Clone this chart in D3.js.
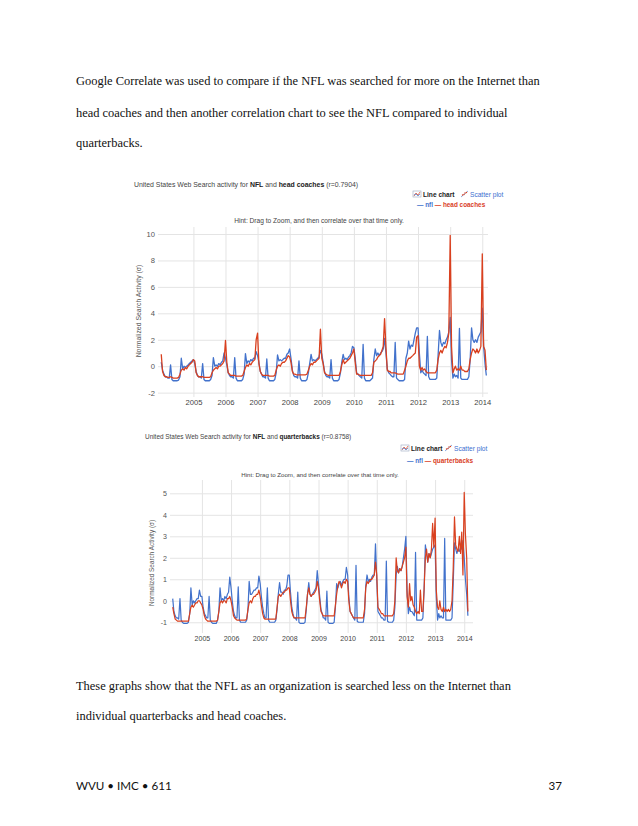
<!DOCTYPE html>
<html>
<head>
<meta charset="utf-8">
<script src="https://cdn.jsdelivr.net/npm/d3@7.9.0/dist/d3.min.js"></script>
<style>
  body { margin: 0; background: #fff; }
  svg { display: block; }
  .body-text { font-family: "Liberation Serif", "DejaVu Serif", serif; font-size: 12.45px; fill: #111; }
  .footer { font-family: Lato, "Open Sans", sans-serif; font-size: 11.6px; fill: #111; }
  .gc text { font-family: "Liberation Sans", Arial, sans-serif; }
</style>
</head>
<body>
<svg id="page" width="638" height="826"></svg>
<script>
// semi-monthly samples (1st and 16th of each month), Jan 2004 -> Feb 2014
const startYear = 2004;
const yearLabels = [2005, 2006, 2007, 2008, 2009, 2010, 2011, 2012, 2013, 2014];

// chart 1: nfl vs head coaches
const nflCoaches = [
  0.3,-0.3,-0.6,-0.8,-0.8,-0.9,-0.9,0.1,-1.0,-1.1,-1.1,-1.1,-1.1,-1.05,-0.8,0.6,-0.2,0.0,-0.1,0.0,0.1,0.2,0.3,0.4,
  0.5,0.2,-0.4,-0.7,-0.8,-0.8,-0.9,0.2,-1.0,-1.1,-1.1,-1.1,-1.1,-1.0,-0.7,0.65,0.0,0.1,0.0,0.2,0.1,0.3,0.4,1.0,
  0.6,0.1,-0.5,-0.7,-0.8,-0.8,-0.9,0.65,-0.9,-1.1,-1.1,-1.1,-1.1,-1.0,-0.6,0.95,0.2,0.4,0.3,0.5,0.4,0.6,0.6,1.1,
  0.8,0.3,-0.4,-0.6,-0.8,-0.8,-0.9,0.55,-0.9,-1.1,-1.1,-1.1,-1.1,-1.0,-0.5,0.85,0.4,0.5,0.4,0.5,0.6,0.6,0.9,1.0,
  1.3,0.6,-0.3,-0.7,-0.8,-0.8,-0.9,0.4,-0.9,-1.1,-1.1,-1.1,-1.1,-1.0,-0.5,0.2,0.9,0.4,0.5,0.4,0.5,0.6,0.7,1.2,
  0.9,0.3,-0.4,-0.7,-0.8,-0.8,-0.9,0.5,-0.9,-1.1,-1.1,-1.1,-1.1,-1.0,-0.5,0.3,0.9,0.5,0.6,0.5,0.7,0.8,1.0,1.5,
  1.4,0.6,-0.5,-0.6,-0.7,-0.8,-0.9,1.65,-0.9,-1.1,-1.1,-1.1,-1.1,-1.0,-0.9,0.5,1.3,0.8,1.0,0.8,1.0,1.1,1.3,2.1,
  1.0,-0.2,-0.5,-0.6,-0.7,-0.8,-0.8,1.8,-0.9,-1.0,-1.1,-1.1,-1.1,-1.1,-1.0,0.6,1.0,1.9,1.3,1.6,1.5,2.0,2.5,2.9,
  2.9,1.0,-0.5,-0.3,-0.5,-0.6,-0.7,2.25,-0.8,-1.0,-1.0,-1.0,-1.0,-1.0,-0.9,0.8,2.7,1.8,1.5,1.8,1.7,2.0,2.2,2.6,
  3.7,0.5,-0.9,-0.6,-0.8,-0.7,-0.9,2.85,-0.9,-1.0,-1.0,-1.0,-1.0,-1.0,-0.8,0.5,2.9,2.0,1.8,2.0,1.8,2.2,2.4,2.6,
  4.4,1.5,0.2,-0.7
];
const headCoaches = [
  0.9,-0.4,-0.7,-0.8,-0.8,-0.85,-0.85,-0.8,-0.85,-0.9,-0.9,-0.9,-0.9,-0.85,-0.6,-0.3,-0.2,-0.3,-0.1,-0.2,0.0,0.1,0.2,0.3,
  0.5,0.4,-0.5,-0.7,-0.8,-0.8,-0.8,-0.8,-0.85,-0.85,-0.85,-0.85,-0.85,-0.8,-0.5,-0.3,-0.2,-0.1,-0.2,0.0,0.0,0.1,0.2,0.4,
  1.95,0.3,-0.5,-0.6,-0.7,-0.7,-0.7,-0.7,-0.75,-0.75,-0.75,-0.75,-0.75,-0.7,-0.4,-0.1,0.1,0.0,0.2,0.1,0.3,0.4,0.5,2.0,
  2.5,0.2,-0.4,-0.6,-0.7,-0.7,-0.7,-0.7,-0.7,-0.75,-0.75,-0.75,-0.75,-0.7,-0.3,0.0,0.1,0.0,0.2,0.3,0.3,0.4,0.6,0.8,
  0.7,0.3,-0.4,-0.6,-0.6,-0.65,-0.65,-0.65,-0.65,-0.65,-0.65,-0.65,-0.65,-0.6,-0.3,0.0,0.2,0.1,0.3,0.3,0.4,0.5,0.6,2.8,
  0.6,0.2,-0.5,-0.6,-0.65,-0.7,-0.7,-0.7,-0.7,-0.7,-0.7,-0.7,-0.7,-0.7,-0.4,0.1,0.5,0.2,0.3,0.4,0.5,0.6,0.8,1.0,
  1.3,0.3,-0.6,-0.6,-0.65,-0.7,-0.7,-0.7,-0.7,-0.7,-0.7,-0.7,-0.7,-0.7,-0.5,0.3,0.4,0.5,0.7,0.8,0.9,1.2,1.5,3.6,
  1.4,-0.3,-0.4,-0.4,-0.5,-0.5,-0.5,-0.5,-0.55,-0.6,-0.6,-0.6,-0.6,-0.6,-0.3,0.0,0.4,0.6,0.6,0.7,0.8,0.9,1.0,2.2,
  2.3,0.0,-0.3,-0.1,-0.3,-0.2,-0.4,-0.5,-0.5,-0.5,-0.5,-0.5,-0.5,-0.5,-0.3,0.5,1.0,1.2,1.0,1.3,1.5,1.4,1.8,2.5,
  9.9,1.5,-0.5,-0.2,0.0,-0.3,-0.2,-0.3,0.0,-0.3,-0.3,-0.4,-0.4,-0.4,-0.2,0.5,1.0,1.3,1.2,1.0,1.3,1.0,1.2,1.5,
  8.5,1.5,1.2,-0.3
];

// chart 2: nfl vs quarterbacks
const nflQbs = [
  0.1,-0.5,-0.7,-0.8,-0.8,-0.85,0.1,-0.9,-1.0,-1.05,-1.05,-1.05,-1.05,-1.0,-0.6,0.6,-0.2,0.0,-0.1,0.0,0.1,0.1,0.5,0.2,
  0.2,-0.3,-0.6,-0.7,-0.8,-0.8,0.2,-0.9,-1.0,-1.05,-1.05,-1.05,-1.05,-0.9,-0.5,0.6,0.0,0.1,0.0,0.2,0.1,0.3,0.4,1.1,
  0.6,0.0,-0.5,-0.7,-0.8,-0.8,0.65,-0.9,-1.0,-1.0,-1.0,-1.0,-1.0,-0.9,-0.4,0.9,0.3,0.3,0.4,0.5,0.5,0.6,0.6,1.15,
  0.8,0.2,-0.3,-0.6,-0.8,-0.8,0.6,-0.9,-1.0,-1.0,-1.0,-1.0,-1.0,-0.9,-0.4,0.3,0.85,0.4,0.4,0.3,0.5,0.5,0.7,1.2,
  1.2,0.4,-0.3,-0.6,-0.8,-0.8,-0.9,0.4,-1.0,-1.05,-1.05,-1.05,-1.05,-1.0,-0.4,0.3,0.85,0.3,0.2,0.3,0.4,0.5,0.6,1.4,
  0.8,0.2,-0.4,-0.6,-0.8,-0.8,-0.9,0.45,-1.0,-1.05,-1.05,-1.05,-1.05,-1.0,-0.3,0.8,0.6,0.8,0.9,0.7,0.9,1.0,1.0,1.55,
  1.2,0.2,-0.5,-0.6,-0.7,-0.8,-0.9,1.65,-0.95,-1.0,-1.0,-1.0,-1.0,-1.0,-0.6,0.7,1.2,0.9,1.0,0.9,1.1,1.2,1.2,2.65,
  1.0,-0.5,-0.6,-0.7,-0.8,-0.8,-0.9,-0.9,1.85,-0.95,-1.0,-1.0,-1.0,-1.0,-0.9,-0.3,1.2,1.6,1.3,1.5,1.4,1.6,2.0,2.4,
  3.0,0.5,-0.6,-0.3,-0.5,-0.5,-0.6,-0.7,2.25,-0.9,-0.9,-0.9,-0.9,-0.9,-0.8,0.5,2.6,2.2,1.8,2.2,2.0,2.2,2.4,2.5,
  2.6,0.2,-0.9,-0.6,-0.8,-0.7,-0.8,-0.8,2.9,-0.9,-0.9,-0.9,-0.9,-0.9,-0.8,0.8,2.7,2.4,2.2,2.4,2.3,2.5,2.4,2.8,
  2.0,1.0,0.3,-0.7
];
const quarterbacks = [
  -0.3,-0.6,-0.85,-0.9,-0.95,-0.95,-0.95,-0.95,-0.95,-0.95,-0.95,-0.95,-0.95,-0.95,-0.6,-0.3,-0.2,-0.3,-0.2,-0.1,-0.1,0.0,0.0,-0.1,
  -0.2,-0.4,-0.7,-0.85,-0.9,-0.95,-0.95,-0.95,-0.95,-0.95,-0.95,-0.95,-0.95,-0.9,-0.5,-0.1,0.0,-0.1,0.0,0.0,-0.1,0.1,0.1,0.2,
  0.0,-0.3,-0.7,-0.8,-0.85,-0.9,-0.9,-0.9,-0.9,-0.9,-0.9,-0.9,-0.9,-0.85,-0.4,-0.1,0.0,-0.1,0.1,0.2,0.2,0.3,0.3,0.5,
  0.2,-0.2,-0.6,-0.8,-0.85,-0.85,-0.85,-0.85,-0.85,-0.85,-0.85,-0.85,-0.85,-0.85,-0.3,0.2,0.3,0.2,0.3,0.4,0.4,0.5,0.5,0.6,
  0.6,0.0,-0.5,-0.7,-0.8,-0.8,-0.8,-0.8,-0.8,-0.8,-0.8,-0.8,-0.8,-0.8,-0.3,0.3,0.6,0.3,0.2,0.3,0.3,0.4,0.5,0.9,
  0.6,0.0,-0.5,-0.6,-0.7,-0.7,-0.7,-0.7,-0.7,-0.7,-0.7,-0.7,-0.7,-0.7,-0.2,0.3,0.7,0.9,0.8,0.6,0.8,0.9,0.8,1.0,
  0.9,0.0,-0.5,-0.6,-0.7,-0.8,-0.8,-0.8,-0.8,-0.8,-0.8,-0.8,-0.8,-0.8,-0.4,0.6,0.9,0.8,0.9,1.0,1.0,1.1,1.2,1.8,
  1.2,-0.3,-0.4,-0.5,-0.6,-0.6,-0.7,-0.7,-0.7,-0.7,-0.7,-0.7,-0.7,-0.7,-0.6,0.0,2.0,1.4,1.3,1.5,1.4,1.6,1.8,2.0,
  2.5,0.2,-0.3,0.8,0.0,0.2,-0.2,-0.3,-0.5,-0.6,-0.5,-0.6,0.5,-0.5,-0.5,0.5,2.0,2.4,1.8,2.2,2.0,2.4,3.6,2.5,
  3.85,0.5,-0.3,-0.4,0.0,-0.4,-0.5,-0.3,-0.5,-0.4,-0.5,-0.4,-0.5,-0.4,0.0,1.5,3.9,2.6,2.4,2.3,3.0,2.2,3.2,1.2,
  5.05,3.1,2.0,-0.5
];

const coachTicks = [-2, 0, 2, 4, 6, 8, 10];
const qbTicks = [-1, 0, 1, 2, 3, 4, 5];

const topParagraph = [
  'Google Correlate was used to compare if the NFL was searched for more on the Internet than',
  'head coaches and then another correlation chart to see the NFL compared to individual',
  'quarterbacks.'
];
const bottomParagraph = [
  'These graphs show that the NFL as an organization is searched less on the Internet than',
  'individual quarterbacks and head coaches.'
];

const blue = '#4272cc';
const red = '#d9401f';

const svg = d3.select('#page');

function sampleDate(i) {
  return new Date(startYear + Math.floor(i / 24), Math.floor((i % 24) / 2), i % 2 ? 16 : 1);
}

// page text
svg.selectAll('text.top').data(topParagraph).join('text')
  .attr('class', 'body-text top')
  .attr('x', 76).attr('y', (d, i) => [85, 117, 147][i])
  .text(d => d);
svg.selectAll('text.bottom').data(bottomParagraph).join('text')
  .attr('class', 'body-text bottom')
  .attr('x', 76).attr('y', (d, i) => [690, 720][i])
  .text(d => d);
svg.append('text').attr('class', 'footer').attr('x', 76).attr('y', 790).text('WVU \u2022 IMC \u2022 611');
svg.append('text').attr('class', 'footer').attr('x', 562).attr('y', 790).attr('text-anchor', 'end').text('37');

function drawChart(opt) {
  const g = svg.append('g').attr('class', 'gc');
  const x = d3.scaleTime().domain(opt.xDomain).range([opt.left, opt.right]);
  const y = d3.scaleLinear().domain(opt.yDomain).range([opt.bottom, opt.top]);
  const k = opt.scale;

  // horizontal grid + y labels
  g.append('g')
    .attr('transform', `translate(${opt.left},0)`)
    .call(d3.axisLeft(y).tickValues(opt.yTicks).tickSize(-(opt.right - opt.left)).tickPadding(3).tickFormat(d => String(d)))
    .call(a => a.select('.domain').remove())
    .call(a => a.selectAll('line').attr('stroke', '#e4e4e4'))
    .call(a => a.selectAll('text').attr('fill', '#555').attr('font-size', 7.6 * k));

  // vertical grid + year labels
  g.append('g')
    .attr('transform', `translate(0,${opt.bottom})`)
    .call(d3.axisBottom(x).tickValues(yearLabels.map(yr => new Date(yr, 0, 1)))
      .tickSize(-(opt.bottom - opt.top)).tickPadding(3).tickFormat(d3.timeFormat('%Y')))
    .call(a => a.select('.domain').remove())
    .call(a => a.selectAll('line').attr('stroke', '#e4e4e4'))
    .call(a => a.selectAll('text').attr('fill', '#444').attr('font-size', 7.6 * k));

  const line = d3.line().x((d, i) => x(sampleDate(i))).y(d => y(d));
  g.append('path').datum(opt.nfl).attr('d', line)
    .attr('fill', 'none').attr('stroke', blue).attr('stroke-width', 1.3 * k).attr('stroke-linejoin', 'round');
  g.append('path').datum(opt.other).attr('d', line)
    .attr('fill', 'none').attr('stroke', red).attr('stroke-width', 1.3 * k).attr('stroke-linejoin', 'round');

  // y title
  g.append('text')
    .attr('transform', `translate(${opt.yTitleX},${opt.yTitleY}) rotate(-90)`)
    .attr('text-anchor', 'middle').attr('font-size', 6.9 * k).attr('fill', '#555')
    .text('Normalized Search Activity (\u03c3)');

  // title
  const t = g.append('text').attr('x', opt.titleX).attr('y', opt.titleY).attr('font-size', 6.9 * k).attr('fill', '#444');
  t.append('tspan').text('United States Web Search activity for ');
  t.append('tspan').attr('font-weight', 'bold').attr('fill', '#222').text('NFL');
  t.append('tspan').text(' and ');
  t.append('tspan').attr('font-weight', 'bold').attr('fill', '#222').text(opt.name);
  t.append('tspan').text(` (r=${opt.r})`);

  // legend row 1
  const lx = opt.legendX, ly = opt.legendY;
  const icon = g.append('g').attr('transform', `translate(${lx},${ly - 6})`);
  icon.append('rect').attr('width', 8).attr('height', 6).attr('fill', '#fff').attr('stroke', '#9aa7c0').attr('stroke-width', 0.6);
  icon.append('path').attr('d', 'M1,5 L3,2 L5,4 L7,1').attr('fill', 'none').attr('stroke', red).attr('stroke-width', 0.7);
  icon.append('path').attr('d', 'M1,4 L3,3 L5,5 L7,3').attr('fill', 'none').attr('stroke', blue).attr('stroke-width', 0.7);
  g.append('text').attr('x', lx + 10).attr('y', ly).attr('font-size', 6.6).attr('font-weight', 'bold').attr('fill', '#222').text('Line chart');
  const sIcon = g.append('g').attr('transform', `translate(${lx + opt.scatterDx},${ly - 6})`);
  sIcon.append('path').attr('d', 'M0,6 L7,0').attr('stroke', blue).attr('stroke-width', 0.6);
  sIcon.selectAll('circle').data([[1.5, 4], [3, 3.5], [4, 2], [5.5, 1.5]]).join('circle')
    .attr('cx', d => d[0]).attr('cy', d => d[1]).attr('r', 0.7).attr('fill', red);
  g.append('text').attr('x', lx + opt.scatterDx + 9).attr('y', ly).attr('font-size', 6.6).attr('fill', '#3b6fd0').text('Scatter plot');

  // legend row 2
  const r2 = g.append('text').attr('x', opt.keyX).attr('y', opt.keyY).attr('font-size', 6.4).attr('font-weight', 'bold');
  r2.append('tspan').attr('fill', blue).text('\u2014 nfl ');
  r2.append('tspan').attr('fill', red).text('\u2014 ' + opt.name);

  // hint
  g.append('text').attr('x', opt.hintX).attr('y', opt.hintY).attr('text-anchor', 'middle')
    .attr('font-size', 6.6 * k).attr('fill', '#444')
    .text('Hint: Drag to Zoom, and then correlate over that time only.');
}

drawChart({
  scale: 1,
  left: 158, right: 488, top: 227, bottom: 397,
  xDomain: [new Date(2003, 10, 25), new Date(2014, 2, 7)],
  yDomain: [-2.33, 10.53], yTicks: coachTicks,
  nfl: nflCoaches, other: headCoaches, name: 'head coaches', r: '0.7904',
  yTitleX: 141, yTitleY: 311, titleX: 134, titleY: 187,
  legendX: 413, legendY: 197, scatterDx: 48,
  keyX: 417, keyY: 207, hintX: 319, hintY: 223
});

drawChart({
  scale: 0.93,
  left: 170, right: 473, top: 480, bottom: 633,
  xDomain: [new Date(2003, 10, 28), new Date(2014, 3, 21)],
  yDomain: [-1.5, 5.62], yTicks: qbTicks,
  nfl: nflQbs, other: quarterbacks, name: 'quarterbacks', r: '0.8758',
  yTitleX: 154, yTitleY: 563, titleX: 145, titleY: 439,
  legendX: 401, legendY: 451, scatterDx: 44,
  keyX: 407, keyY: 463, hintX: 320, hintY: 477
});
</script>
</body>
</html>
